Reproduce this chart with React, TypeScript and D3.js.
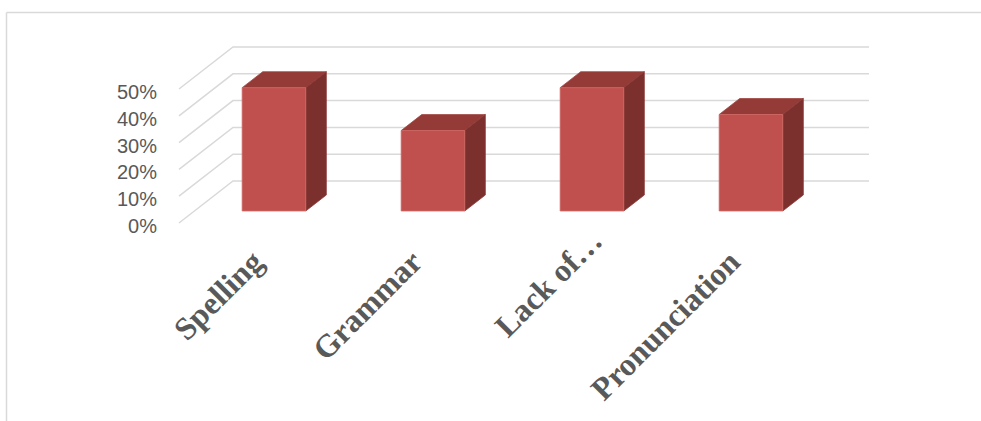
import React from "react";
import * as d3 from "d3";

const categories = ["Spelling", "Grammar", "Lack of…", "Pronunciation"];
const values = [0.46, 0.3, 0.46, 0.36];
const yTicks = [0, 0.1, 0.2, 0.3, 0.4, 0.5];

const W = 981;
const H = 421;
// 3D projection parameters
const DEPTH_DX = 54;
const DEPTH_DY = -42;
const BAR_D0 = 0.286;
const BAR_D1 = 0.667;

export default function App() {
  const x = d3.scaleBand<string>().domain(categories).range([179, 815]).padding(0);
  const y = d3.scaleLinear().domain([0, 0.5]).range([223, 89]);
  const pt = (xf: number, v: number, d: number): [number, number] => [
    xf + d * DEPTH_DX,
    y(v) + d * DEPTH_DY,
  ];
  const fmt = d3.format(".0%");
  const bw = x.bandwidth();
  const barW = bw * 0.4;
  const backRight = pt(815, 0, 1)[0];

  return (
    <svg
      width={W}
      height={H}
      style={{ position: "absolute", left: 0, top: 0, background: "#fff" }}
    >
      <line x1={6.5} y1={12.5} x2={W} y2={12.5} stroke="#D9D9D9" strokeWidth={1.5} />
      <line x1={6.5} y1={12.5} x2={6.5} y2={H} stroke="#D9D9D9" strokeWidth={1.5} />

      {yTicks.map((t) => {
        const [fx, fy] = pt(179, t, 0);
        const [bx, by] = pt(179, t, 1);
        return (
          <g key={t}>
            <polyline
              points={`${fx},${fy} ${bx},${by} ${backRight},${by}`}
              fill="none"
              stroke="#D9D9D9"
              strokeWidth={1.5}
            />
            <text
              x={157}
              y={fy + 10}
              textAnchor="end"
              fontFamily="'Liberation Sans', Arial, sans-serif"
              fontSize={20}
              fill="#595959"
            >
              {fmt(t)}
            </text>
          </g>
        );
      })}

      {categories.map((c, i) => {
        const v = values[i];
        const xl = (x(c) as number) + (bw - barW) / 2;
        const xr = xl + barW;
        const fbl = pt(xl, 0, BAR_D0);
        const fbr = pt(xr, 0, BAR_D0);
        const ftl = pt(xl, v, BAR_D0);
        const ftr = pt(xr, v, BAR_D0);
        const btl = pt(xl, v, BAR_D1);
        const btr = pt(xr, v, BAR_D1);
        const bbr = pt(xr, 0, BAR_D1);
        const P = (a: [number, number][]) => a.map((p) => p.join(",")).join(" ");
        const cx = (fbl[0] + fbr[0]) / 2;
        const shift = c.endsWith("…") ? 30 : 0;
        return (
          <g key={c}>
            <polygon points={P([ftl, ftr, btr, btl])} fill="#943B38" stroke="#A04643" strokeWidth={0.8} />
            <polygon points={P([fbr, ftr, btr, bbr])} fill="#7C302E" stroke="#8A3836" strokeWidth={0.8} />
            <polygon points={P([fbl, fbr, ftr, ftl])} fill="#C0504D" stroke="#D06A67" strokeWidth={0.8} />
            <text
              transform={`translate(${cx - 9},264) rotate(-45)`}
              dx={shift}
              textAnchor="end"
              fontFamily="'Liberation Serif', 'Times New Roman', serif"
              fontWeight="bold"
              fontSize={32}
              fill="#595959"
            >
              {c}
            </text>
          </g>
        );
      })}
    </svg>
  );
}
